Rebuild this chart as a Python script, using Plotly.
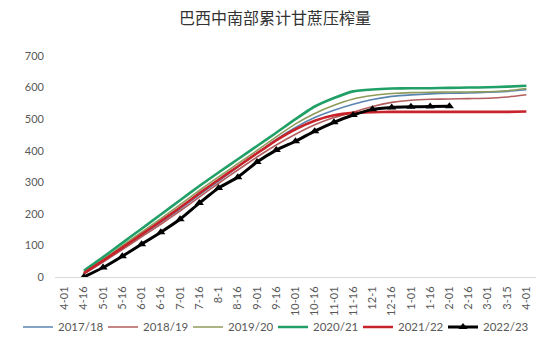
import plotly.graph_objects as go

categories = ["4-01", "4-16", "5-01", "5-16", "6-01", "6-16", "7-01", "7-16", "8-1", "8-16",
              "9-01", "9-16", "10-01", "10-16", "11-01", "11-16", "12-1", "12-16", "1-01", "1-16",
              "2-01", "2-16", "3-01", "3-15", "4-01"]

s2017 = [None, 10, 50, 91, 132, 173, 215, 260, 304, 348, 392, 436, 474, 505, 528, 547, 562, 572, 577, 580, 582, 583, 585, 588, 593]
s2018 = [None, 9, 47, 87, 127, 167, 209, 253, 297, 339, 380, 418, 452, 482, 505, 522, 540, 553, 560, 563, 564, 565, 566, 570, 577]
s2019 = [None, 14, 56, 99, 142, 185, 229, 274, 317, 359, 401, 444, 485, 518, 544, 564, 575, 581, 584, 585, 586, 586, 587, 590, 597]
s2020 = [None, 20, 63, 108, 153, 198, 243, 288, 331, 373, 415, 457, 500, 540, 567, 588, 594, 597, 598, 598, 599, 600, 601, 603, 606]
s2021 = [None, 12, 52, 93, 135, 177, 220, 265, 308, 350, 392, 433, 468, 495, 512, 520, 522, 523, 523, 523, 523, 523, 523, 523, 524]
s2022 = [None, 0, 30, 66, 104, 142, 183, 234, 282, 316, 364, 402, 430, 462, 490, 513, 531, 537, 539, 540, 541]

series_names = ["2017/18", "2018/19", "2019/20", "2020/21", "2021/22", "2022/23"]
series_values = [s2017, s2018, s2019, s2020, s2021, s2022]
colors = ["#5b84b1", "#b35d5d", "#8f9b5a", "#20a067", "#c8232b", "#000000"]
widths = [1.6, 1.6, 1.6, 2.6, 2.6, 3]
legend_ids = ["legend", "legend", "legend", "legend2", "legend2", "legend2"]

x = list(range(len(categories)))

fig = go.Figure()
for name, vals, c, w, lg in zip(series_names, series_values, colors, widths, legend_ids):
    is_black = name == "2022/23"
    fig.add_trace(go.Scatter(
        x=x[:len(vals)], y=vals, name=name, legend=lg,
        mode="lines+markers" if is_black else "lines",
        line=dict(color=c, width=w, shape="spline", smoothing=0.5),
        marker=dict(symbol="triangle-up", size=8, color=c) if is_black else None,
        connectgaps=False,
    ))

legend_common = dict(orientation="h", xanchor="left", xref="container",
                     y=0.055, yanchor="middle", yref="container",
                     font=dict(size=11.5, color="#595959"), itemwidth=30,
                     entrywidth=40, entrywidthmode="pixels",
                     tracegroupgap=0, bgcolor="rgba(0,0,0,0)")

fig.update_layout(
    width=550, height=346,
    margin=dict(l=55, r=14, t=56, b=69),
    paper_bgcolor="white", plot_bgcolor="white",
    title=dict(text="巴西中南部累计甘蔗压榨量", x=0.5, xanchor="center", y=0.948, yanchor="middle",
               font=dict(family="Noto Sans CJK SC", size=16, color="#333333")),
    font=dict(family="Lato, Open Sans, sans-serif", color="#595959", size=11),
    showlegend=True,
    legend=dict(x=18 / 550, **legend_common),
    legend2=dict(x=273 / 550, **legend_common),
)
fig.update_xaxes(
    range=[-0.5, len(categories) - 0.5], automargin=False,
    tickmode="array", tickvals=x, ticktext=categories, tickangle=-90,
    showgrid=False, zeroline=False, showline=True, linecolor="#d9d9d9", linewidth=1,
    ticks="", ticklabelstandoff=4, tickfont=dict(size=11, color="#595959"),
)
fig.update_yaxes(
    range=[0, 700], dtick=100, showgrid=False, zeroline=False, showline=False, automargin=False,
    ticks="", ticklabelstandoff=10, tickfont=dict(size=11, color="#595959"),
)

fig.write_html("out.html")
